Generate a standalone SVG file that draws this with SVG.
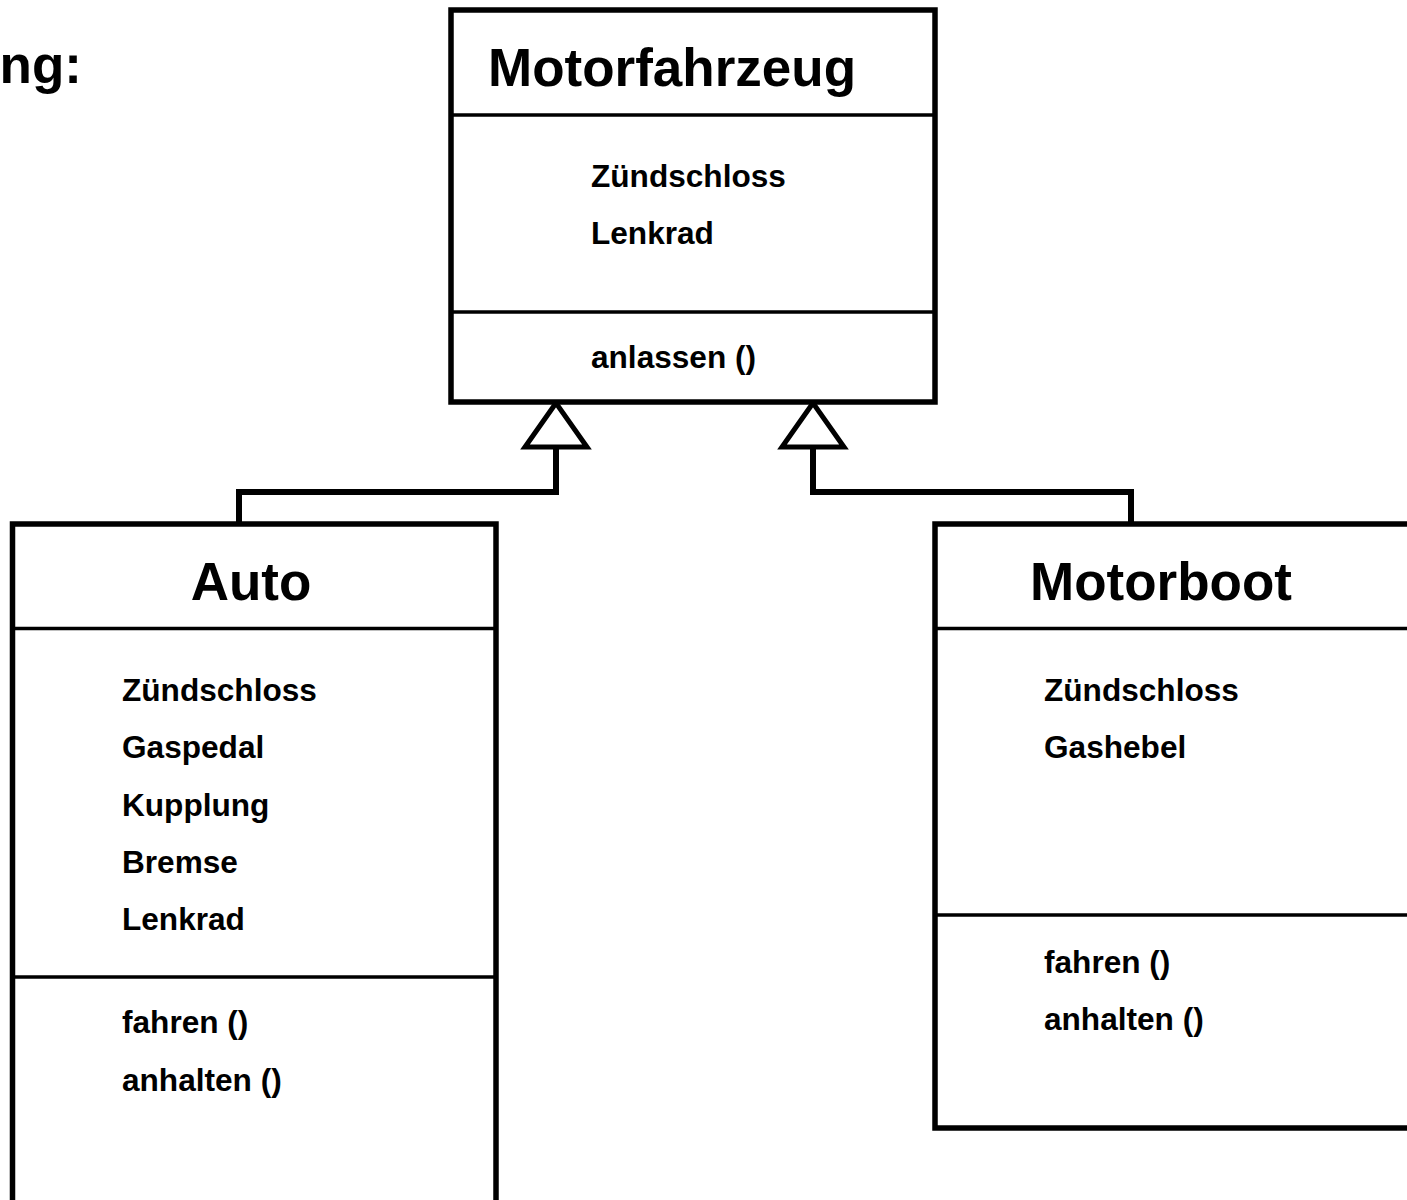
<svg xmlns="http://www.w3.org/2000/svg" width="1407" height="1200" viewBox="0 0 1407 1200">
<style>
.box{fill:#fff;stroke:#000;stroke-width:5.5}
.div{stroke:#000;stroke-width:3.5}
.title{font-family:"Liberation Sans",Arial,sans-serif;font-weight:bold;font-size:53px;fill:#000}
.item{font-family:"Liberation Sans",Arial,sans-serif;font-weight:bold;font-size:31.6px;fill:#000}
.conn{fill:none;stroke:#000;stroke-width:6}
.tri{fill:#fff;stroke:#000;stroke-width:5;stroke-linejoin:miter}
</style>
<rect width="1407" height="1200" fill="#fff"/>
<text class="title" x="82" y="83" text-anchor="end">ng:</text>
<g id="connectors">
<polyline class="conn" points="556,447 556,492 239,492 239,524"/>
<polyline class="conn" points="813,447 813,492 1131,492 1131,524"/>
<polygon class="tri" points="556,403 525,447 587,447"/>
<polygon class="tri" points="813,403 782,447 844,447"/>
</g>
<g id="Motorfahrzeug">
<rect class="box" x="451" y="10" width="484" height="392"/>
<line class="div" x1="451" y1="115" x2="935" y2="115"/>
<line class="div" x1="451" y1="312" x2="935" y2="312"/>
<text class="title" x="672" y="86" text-anchor="middle">Motorfahrzeug</text>
<text class="item" x="591" y="187">Zündschloss</text>
<text class="item" x="591" y="244">Lenkrad</text>
<text class="item" x="591" y="368">anlassen ()</text>
</g>
<g id="Auto">
<rect class="box" x="12.5" y="524" width="483.5" height="700"/>
<line class="div" x1="12.5" y1="628.5" x2="496" y2="628.5"/>
<line class="div" x1="12.5" y1="977" x2="496" y2="977"/>
<text class="title" x="251" y="600" text-anchor="middle">Auto</text>
<text class="item" x="122" y="701">Zündschloss</text>
<text class="item" x="122" y="758">Gaspedal</text>
<text class="item" x="122" y="816">Kupplung</text>
<text class="item" x="122" y="873">Bremse</text>
<text class="item" x="122" y="930">Lenkrad</text>
<text class="item" x="122" y="1033">fahren ()</text>
<text class="item" x="122" y="1091">anhalten ()</text>
</g>
<g id="Motorboot">
<rect class="box" x="935" y="524" width="500" height="604"/>
<line class="div" x1="935" y1="628.5" x2="1420" y2="628.5"/>
<line class="div" x1="935" y1="915" x2="1420" y2="915"/>
<text class="title" x="1161" y="600" text-anchor="middle">Motorboot</text>
<text class="item" x="1044" y="701">Zündschloss</text>
<text class="item" x="1044" y="758">Gashebel</text>
<text class="item" x="1044" y="973">fahren ()</text>
<text class="item" x="1044" y="1030">anhalten ()</text>
</g>
</svg>
